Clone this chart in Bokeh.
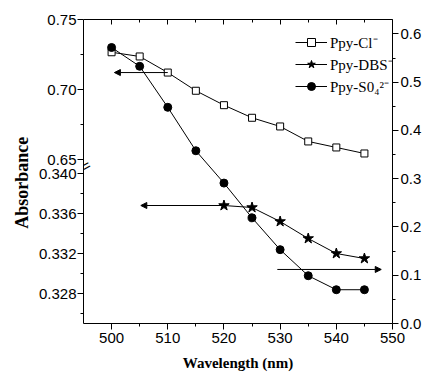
import numpy as np
from bokeh.plotting import figure
from bokeh.models import (Range1d, LinearAxis, FixedTicker, PrintfTickFormatter,
                          Arrow, NormalHead, Label)
from bokeh.embed import file_html
from bokeh.resources import INLINE

# ---------------- data ----------------
wavelength = [500, 505, 510, 515, 520, 525, 530, 535, 540, 545]
abs_cl = [0.7266, 0.7236, 0.7121, 0.6991, 0.6888, 0.6798, 0.6736, 0.6629, 0.6586, 0.6543]
wavelength_dbs = [520, 525, 530, 535, 540, 545]
abs_dbs = [0.3368, 0.3366, 0.3352, 0.3335, 0.3320, 0.3315]
abs_so4 = [0.572, 0.533, 0.448, 0.358, 0.291, 0.219, 0.153, 0.099, 0.070, 0.070]

labels = ["Ppy-Cl\u207b", "Ppy-DBS\u207b", "Ppy-S0\u2084\u00b2\u207b"]

x_ticks = [500, 510, 520, 530, 540, 550]
top_ticks = [0.65, 0.70, 0.75]
top_tick_labels = ["0.65", "0.70", "0.75"]
bot_ticks = [0.328, 0.332, 0.336, 0.340]
bot_tick_labels = ["0.328", "0.332", "0.336", "0.340"]
right_ticks = [0.0, 0.1, 0.2, 0.3, 0.4, 0.5, 0.6]

# arrow tails/heads (wavelength) pointing to the axis each series belongs to
arrow_cl_x = [510, 500.5]
arrow_dbs_x = [520, 505.2]
arrow_so4_x = [529.5, 548.0]
arrow_so4_y = 0.112

# ---------------- layout ----------------
W, H = 424, 377
BORDER_L, BORDER_T, BORDER_B = 83, 19, 54
FRAME_H = H - BORDER_T - BORDER_B   # 304
TOP_PX = 146              # height of the upper (0.65-0.75) segment
x_range = Range1d(495, 550)
right_range = Range1d(0, 0.63)
top_scale = 1400.0        # px per absorbance unit, upper segment
bot_scale = 10000.0       # px per absorbance unit, lower segment
top_range = Range1d(0.75 - FRAME_H / top_scale, 0.75)
bot_range = Range1d(0.325, 0.325 + FRAME_H / bot_scale)
break_top = 0.75 - TOP_PX / top_scale


def bot_to_top(v):
    """position of a lower-segment value on the upper-segment range"""
    return top_range.start + (np.asarray(v, dtype=float) - bot_range.start) * bot_scale / top_scale


def mids(t):
    t = np.asarray(t, dtype=float)
    return list((t[:-1] + t[1:]) / 2)


p = figure(width=W, height=H, x_range=x_range, y_range=right_range,
           output_backend="svg", toolbar_location=None,
           x_axis_location=None, y_axis_location=None,
           min_border_left=BORDER_L, min_border_top=BORDER_T,
           min_border_bottom=BORDER_B, min_border_right=0)
p.extra_y_ranges = {"top": top_range, "bot": bot_range}
p.outline_line_color = None
p.xgrid.visible = False
p.ygrid.visible = False
p.background_fill_color = "white"
p.border_fill_color = "white"

TICK_FONT = "Liberation Sans"
TITLE_FONT = "Liberation Serif"


def style(ax, size="15px"):
    ax.axis_line_color = "black"
    ax.major_tick_line_color = "black"
    ax.minor_tick_line_color = "black"
    ax.major_label_text_color = "black"
    ax.major_label_text_font = TICK_FONT
    ax.major_label_text_font_size = size
    ax.major_tick_out = 5
    ax.major_tick_in = 0
    ax.minor_tick_out = 3
    ax.minor_tick_in = 0


# bottom x axis
xb = LinearAxis(ticker=FixedTicker(ticks=x_ticks, minor_ticks=mids(x_ticks)),
                axis_label="Wavelength (nm)")
style(xb)
xb.major_tick_out = 6
xb.major_label_standoff = 3
xb.axis_label_standoff = 9
xb.axis_label_text_font = TITLE_FONT
xb.axis_label_text_font_style = "bold"
xb.axis_label_text_font_size = "15px"
xb.axis_label_text_color = "black"
p.add_layout(xb, "below")

# top mirror axis (ticks only)
xt = LinearAxis(ticker=FixedTicker(ticks=x_ticks, minor_ticks=mids(x_ticks)),
                major_label_overrides={t: "" for t in x_ticks})
style(xt)
xt.major_tick_out = 0
xt.major_tick_in = 5
xt.minor_tick_out = 0
xt.minor_tick_in = 3
xt.major_label_text_font_size = "0px"
xt.major_label_standoff = 0
p.add_layout(xt, "above")

# right axis (Ppy-SO4)
yr = LinearAxis(ticker=FixedTicker(ticks=right_ticks, minor_ticks=mids(right_ticks)),
                formatter=PrintfTickFormatter(format="%.1f"))
style(yr)
yr.major_tick_out = 6
yr.major_label_standoff = 2
p.add_layout(yr, "right")

# broken left axis: upper segment ticks + lower segment ticks mapped onto one axis
bot_pos = [float(t) for t in bot_to_top(bot_ticks)]
bot_minor = [float(t) for t in bot_to_top(mids(bot_ticks) + [bot_ticks[0] - 0.002])]
overrides = {float(t): s for t, s in zip(top_ticks, top_tick_labels)}
overrides.update({t: s for t, s in zip(bot_pos, bot_tick_labels)})
ya = LinearAxis(y_range_name="top",
                ticker=FixedTicker(ticks=[float(t) for t in top_ticks] + bot_pos,
                                   minor_ticks=mids(top_ticks) + bot_minor),
                major_label_overrides=overrides)
style(ya)
ya.major_tick_out = 6
ya.major_label_standoff = 1
p.add_layout(ya, "left")

# left label-only axis (stacked outside the tick axis); trailing no-break spaces
# move the visible title a little below the frame centre, as in the original
yl = LinearAxis(ticker=FixedTicker(ticks=[]),
                axis_label="Absorbance" + "\u00a0" * 5)
yl.axis_line_color = None
yl.major_tick_out = 0
yl.major_tick_in = 0
yl.minor_tick_out = 0
yl.minor_tick_in = 0
yl.major_label_text_font_size = "0px"
yl.major_label_standoff = 0
yl.axis_label_standoff = 4
yl.axis_label_text_font = TITLE_FONT
yl.axis_label_text_font_style = "bold"
yl.axis_label_text_font_size = "18px"
yl.axis_label_text_color = "black"
p.add_layout(yl, "left")

# axis break mark
p.add_layout(Label(x=x_range.start + 0.4, y=break_top, y_range_name="top", text="=",
                   angle=0.5, text_align="center", text_baseline="middle",
                   text_font=TICK_FONT, text_font_size="15px", text_color="black"))

# ---------------- series ----------------
p.line(wavelength, abs_cl, y_range_name="top", line_color="black", line_width=1,
       legend_label=labels[0])
p.scatter(wavelength, abs_cl, y_range_name="top", marker="square", size=7,
          fill_color="white", line_color="black", line_width=1, legend_label=labels[0])

p.line(wavelength_dbs, abs_dbs, y_range_name="bot", line_color="black", line_width=1,
       legend_label=labels[1])
p.scatter(wavelength_dbs, abs_dbs, y_range_name="bot", marker="star", size=11,
          fill_color="black", line_color="black", legend_label=labels[1])

p.line(wavelength, abs_so4, line_color="black", line_width=1, legend_label=labels[2])
p.scatter(wavelength, abs_so4, marker="circle", size=8, fill_color="black",
          line_color="black", legend_label=labels[2])

# ---------------- arrows ----------------
def head():
    return NormalHead(size=6, fill_color="black", line_color="black", line_width=1)

p.add_layout(Arrow(end=head(), x_start=arrow_cl_x[0], x_end=arrow_cl_x[1],
                   y_start=abs_cl[2], y_end=abs_cl[2], y_range_name="top",
                   line_color="black", line_width=1))
p.add_layout(Arrow(end=head(), x_start=arrow_dbs_x[0], x_end=arrow_dbs_x[1],
                   y_start=abs_dbs[0], y_end=abs_dbs[0], y_range_name="bot",
                   line_color="black", line_width=1))
p.add_layout(Arrow(end=head(), x_start=arrow_so4_x[0], x_end=arrow_so4_x[1],
                   y_start=arrow_so4_y, y_end=arrow_so4_y,
                   line_color="black", line_width=1))

# ---------------- legend ----------------
lg = p.legend[0]
lg.location = (212, 227)
lg.border_line_color = None
lg.background_fill_alpha = 0
lg.padding = 0
lg.margin = 0
lg.spacing = 2
lg.glyph_width = 32
lg.glyph_height = 20
lg.label_height = 20
lg.label_standoff = 3
lg.label_text_font = TITLE_FONT
lg.label_text_font_size = "15px"
lg.label_text_color = "black"

open("out.html", "w").write(file_html(p, INLINE))
